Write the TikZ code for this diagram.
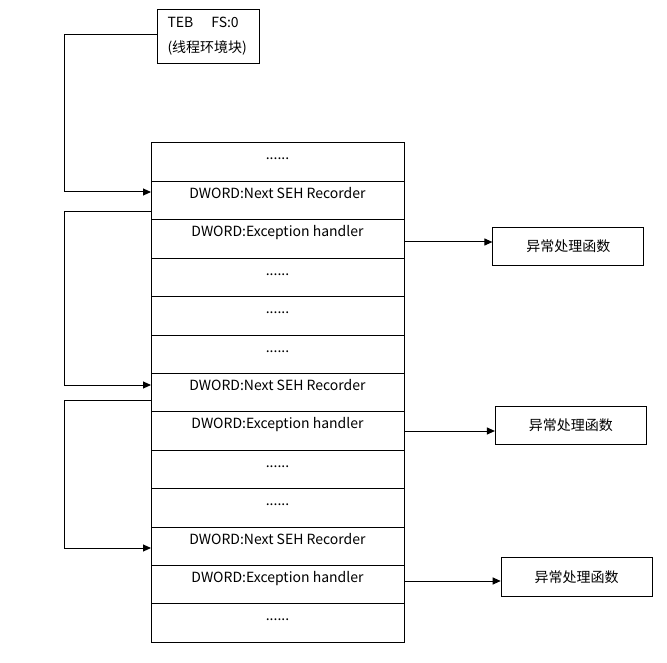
\documentclass[tikz,border=0pt]{standalone}
\usepackage{fontspec}
\setmainfont{Noto Sans CJK SC}
\usetikzlibrary{arrows.meta,positioning}
\begin{document}
\begin{tikzpicture}[x=1pt,y=-1pt,
  every node/.style={font=\fontsize{14}{25}\selectfont},
  rowbox/.style={draw,line width=1pt,inner sep=0pt,outer sep=0pt,minimum width=253pt,
    text height=17pt,text depth=21.4pt,anchor=north},
  funcbox/.style={draw,line width=1pt,inner sep=0pt,minimum width=151pt,minimum height=38.5pt},
  link/.style={line width=1pt},
  arrow/.style={link,-{Triangle[length=8pt,width=7pt]}}]
\useasboundingbox (0,0) rectangle (667,663);

% TEB box
\node[draw,line width=1pt,minimum width=102pt,minimum height=54pt,inner sep=0pt,
      align=left,text width=81pt] (teb) at (208,36.3) {TEB\hspace{18pt}FS:0\\(线程环境块)};

% stack of rows
\node[rowbox] (r1) at (277.5,143) {......};
\node[rowbox,below=0pt of r1] (r2) {DWORD:Next SEH Recorder};
\node[rowbox,below=0pt of r2] (r3) {DWORD:Exception handler};
\node[rowbox,below=0pt of r3] (r4) {......};
\node[rowbox,below=0pt of r4] (r5) {......};
\node[rowbox,below=0pt of r5] (r6) {......};
\node[rowbox,below=0pt of r6] (r7) {DWORD:Next SEH Recorder};
\node[rowbox,below=0pt of r7] (r8) {DWORD:Exception handler};
\node[rowbox,below=0pt of r8] (r9) {......};
\node[rowbox,below=0pt of r9] (r10) {......};
\node[rowbox,below=0pt of r10] (r11) {DWORD:Next SEH Recorder};
\node[rowbox,below=0pt of r11] (r12) {DWORD:Exception handler};
\node[rowbox,below=0pt of r12] (r13) {......};

% handler boxes
\node[funcbox] (h1) at (568.4,246.5) {异常处理函数};
\node[funcbox] (h2) at (570.9,425.5) {异常处理函数};
\node[funcbox] (h3) at (576.7,577.2) {异常处理函数};

% bend points of the chain
\coordinate (k1) at (64,192);
\coordinate (s2) at (64,212);
\coordinate (k2) at (64,385);
\coordinate (s3) at (64,400);
\coordinate (k3) at (64,548);

\draw[arrow] ([yshift=2pt]teb.west) -| (k1) -- (k1 -| r2.west);
\draw[arrow] (s2 -| r2.west) -- (s2) -- (k2) -- (k2 -| r7.west);
\draw[arrow] (s3 -| r7.west) -- (s3) -- (k3) -- (k3 -| r11.west);

% handler pointers
\draw[arrow] ([yshift=-3pt]r3.east) -- ([yshift=-3pt]r3.east -| h1.west);
\draw[arrow] (r8.east) -- (r8.east -| h2.west);
\draw[arrow] ([yshift=3.6pt]r12.east) -- ([yshift=3.6pt]r12.east -| h3.west);
\end{tikzpicture}
\end{document}
